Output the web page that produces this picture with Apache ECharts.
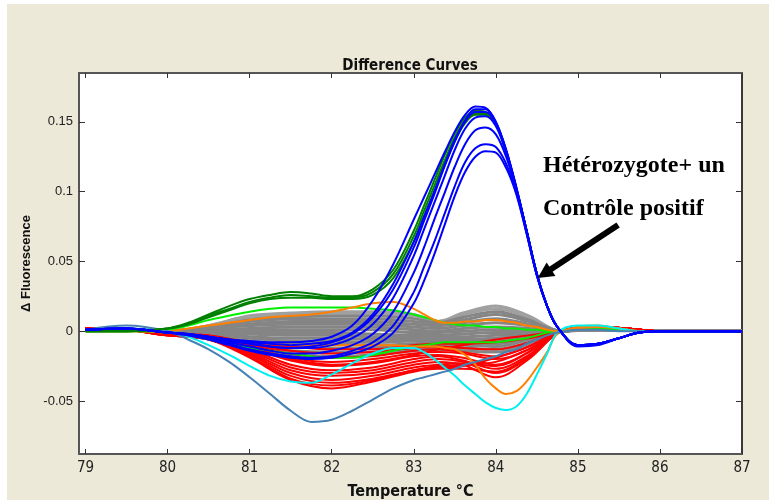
<!DOCTYPE html>
<html>
<head>
<meta charset="utf-8">
<script src="https://cdn.jsdelivr.net/npm/echarts@6/dist/echarts.min.js"></script>
<style>
  html, body { margin: 0; padding: 0; background: #ffffff; }
  #chart { position: absolute; left: 7px; top: 4px; width: 762px; height: 496px; background: #ECE9D8; }
</style>
</head>
<body>
<div id="chart"></div>
<script>
// Temperature grids (°C) used by the difference curves
const tempsFine = [79, 79.5, 80, 80.25, 80.5, 80.75, 81, 81.25, 81.5, 81.75, 82, 82.25, 82.5, 82.75,
  83, 83.125, 83.25, 83.375, 83.5, 83.625, 83.75, 83.875, 84, 84.125, 84.25, 84.375, 84.5, 84.625, 84.75,
  85, 85.25, 85.5, 85.75, 86, 87];
const tempsCoarse = [79, 79.5, 80, 80.5, 81, 81.5, 82, 82.5, 83, 83.3, 83.6, 84, 84.4, 84.8, 85.2, 85.6, 86, 87];

// Tick labels
const xTicks = [79, 80, 81, 82, 83, 84, 85, 86, 87];
const yTicks = [-0.05, 0, 0.05, 0.1, 0.15];

// Heterozygote + positive control (blue), on tempsFine
const blueCurves = [
  [0.001, 0.002, -0.001, -0.002, -0.004, -0.006, -0.007, -0.008, -0.008, -0.007, -0.004, 0.004, 0.022, 0.048, 0.080, 0.096, 0.112, 0.128, 0.143, 0.155, 0.161, 0.160, 0.150, 0.130, 0.103, 0.072, 0.041, 0.018, 0.003, -0.010, -0.009, -0.005, -0.001, 0, 0],
  [0.001, 0.002, -0.001, -0.002, -0.004, -0.006, -0.009, -0.011, -0.012, -0.011, -0.008, -0.002, 0.010, 0.030, 0.060, 0.079, 0.098, 0.118, 0.136, 0.151, 0.159, 0.159, 0.150, 0.130, 0.103, 0.072, 0.041, 0.018, 0.003, -0.011, -0.010, -0.005, -0.001, 0, 0],
  [0.001, 0.002, -0.001, -0.002, -0.004, -0.006, -0.008, -0.009, -0.010, -0.009, -0.007, -0.001, 0.012, 0.034, 0.064, 0.082, 0.100, 0.119, 0.137, 0.150, 0.157, 0.157, 0.149, 0.129, 0.102, 0.072, 0.041, 0.018, 0.003, -0.010, -0.009, -0.005, -0.001, 0, 0],
  [0.001, 0.002, -0.001, -0.002, -0.004, -0.007, -0.009, -0.011, -0.012, -0.012, -0.010, -0.005, 0.005, 0.024, 0.054, 0.073, 0.092, 0.111, 0.130, 0.145, 0.153, 0.154, 0.147, 0.128, 0.102, 0.072, 0.041, 0.018, 0.003, -0.010, -0.009, -0.005, -0.001, 0, 0],
  [0.001, 0.002, -0.001, -0.002, -0.005, -0.008, -0.011, -0.014, -0.016, -0.016, -0.014, -0.010, -0.002, 0.014, 0.042, 0.060, 0.080, 0.099, 0.118, 0.134, 0.144, 0.146, 0.141, 0.125, 0.101, 0.071, 0.040, 0.018, 0.003, -0.010, -0.009, -0.005, -0.001, 0, 0],
  [0.001, 0.002, -0.001, -0.003, -0.005, -0.009, -0.013, -0.016, -0.018, -0.019, -0.018, -0.014, -0.008, 0.004, 0.028, 0.046, 0.064, 0.084, 0.104, 0.121, 0.131, 0.134, 0.132, 0.120, 0.099, 0.070, 0.040, 0.018, 0.003, -0.010, -0.009, -0.005, -0.001, 0, 0],
  [0.001, 0.002, -0.001, -0.003, -0.006, -0.010, -0.014, -0.017, -0.019, -0.020, -0.019, -0.016, -0.011, -0.001, 0.020, 0.036, 0.055, 0.076, 0.097, 0.114, 0.125, 0.129, 0.128, 0.117, 0.098, 0.070, 0.040, 0.018, 0.003, -0.010, -0.009, -0.005, -0.001, 0, 0]
];

// Dark green samples, on tempsFine
const greenCurves = [
  [0, 0, 0.002, 0.006, 0.012, 0.018, 0.023, 0.026, 0.028, 0.027, 0.025, 0.025, 0.030, 0.044, 0.072, 0.090, 0.108, 0.126, 0.142, 0.153, 0.158, 0.157, 0.149, 0.129, 0.102, 0.072, 0.041, 0.018, 0.003, -0.010, -0.009, -0.005, -0.001, 0, 0],
  [0, 0, 0.002, 0.005, 0.011, 0.016, 0.021, 0.024, 0.026, 0.025, 0.024, 0.024, 0.028, 0.041, 0.068, 0.086, 0.104, 0.122, 0.139, 0.151, 0.156, 0.156, 0.148, 0.129, 0.102, 0.072, 0.041, 0.018, 0.003, -0.010, -0.009, -0.005, -0.001, 0, 0],
  [0, 0, 0.002, 0.005, 0.010, 0.015, 0.020, 0.023, 0.024, 0.024, 0.023, 0.023, 0.026, 0.038, 0.064, 0.082, 0.100, 0.119, 0.136, 0.149, 0.155, 0.155, 0.148, 0.128, 0.102, 0.072, 0.041, 0.018, 0.003, -0.010, -0.009, -0.005, -0.001, 0, 0]
];

// Light green samples, on tempsFine
const limeCurves = [
  [0, 0, 0.001, 0.004, 0.008, 0.011, 0.014, 0.016, 0.017, 0.017, 0.017, 0.017, 0.016, 0.015, 0.012, 0.010, 0.008, 0.006, 0.005, 0.004, 0.004, 0.003, 0.003, 0.002, 0.002, 0.001, 0.001, 0, 0, 0.002, 0.003, 0.002, 0, 0, 0],
  [0, 0, -0.001, -0.003, -0.006, -0.009, -0.012, -0.014, -0.016, -0.018, -0.019, -0.019, -0.017, -0.014, -0.011, -0.010, -0.009, -0.008, -0.008, -0.008, -0.008, -0.008, -0.008, -0.007, -0.006, -0.005, -0.003, -0.001, 0, 0.002, 0.002, 0.001, 0, 0, 0]
];

// Orange samples, on tempsFine
const orangeCurves = [
  [0, 0, 0, 0.002, 0.004, 0.006, 0.008, 0.010, 0.011, 0.012, 0.014, 0.017, 0.020, 0.021, 0.016, 0.012, 0.008, 0.006, 0.006, 0.007, 0.007, 0.008, 0.008, 0.007, 0.006, 0.004, 0.003, 0.001, 0, 0.002, 0.003, 0.002, 0, 0, 0],
  [0.001, 0.001, -0.001, -0.002, -0.004, -0.006, -0.008, -0.009, -0.010, -0.010, -0.010, -0.010, -0.010, -0.010, -0.011, -0.011, -0.011, -0.012, -0.013, -0.017, -0.024, -0.034, -0.041, -0.045, -0.043, -0.036, -0.026, -0.015, -0.002, 0.003, 0.004, 0.002, 0, 0, 0]
];

// Cyan sample, on tempsFine
const cyanCurve = [0.001, 0.002, 0, -0.004, -0.010, -0.017, -0.025, -0.032, -0.036, -0.037, -0.031, -0.023, -0.016, -0.012, -0.012, -0.015, -0.020, -0.026, -0.032, -0.039, -0.045, -0.051, -0.055, -0.0565, -0.054, -0.045, -0.031, -0.016, -0.001, 0.004, 0.004, 0.002, 0, 0, 0];

// Steel blue sample, on tempsFine
const steelCurve = [0.001, 0.004, 0, -0.006, -0.013, -0.022, -0.033, -0.045, -0.057, -0.065, -0.0635, -0.057, -0.049, -0.041, -0.035, -0.033, -0.031, -0.029, -0.027, -0.024, -0.022, -0.020, -0.018, -0.015, -0.013, -0.009, -0.006, -0.003, -0.001, 0.001, 0.001, 0, 0, 0, 0];

// Red samples, on tempsCoarse
const redCurves = [
  [0.002, 0.001, -0.002, -0.003, -0.008, -0.011, -0.013, -0.013, -0.010, -0.009, -0.009, -0.008, -0.005, 0, 0.003, 0.002, 0, 0],
  [0.002, 0.001, -0.002, -0.003, -0.009, -0.014, -0.016, -0.015, -0.012, -0.011, -0.012, -0.013, -0.008, 0, 0.003, 0.002, 0, 0],
  [0.002, 0.001, -0.002, -0.004, -0.010, -0.016, -0.019, -0.018, -0.014, -0.013, -0.015, -0.018, -0.011, 0, 0.003, 0.002, 0, 0],
  [0.002, 0.001, -0.002, -0.004, -0.011, -0.019, -0.022, -0.020, -0.016, -0.015, -0.016, -0.020, -0.013, 0, 0.003, 0.002, 0, 0],
  [0.002, 0.001, -0.002, -0.004, -0.012, -0.021, -0.025, -0.023, -0.018, -0.017, -0.019, -0.024, -0.015, 0, 0.003, 0.002, 0, 0],
  [0.002, 0.001, -0.002, -0.005, -0.013, -0.024, -0.028, -0.026, -0.020, -0.018, -0.021, -0.027, -0.017, 0, 0.003, 0.002, 0, 0],
  [0.002, 0.001, -0.003, -0.005, -0.014, -0.026, -0.030, -0.028, -0.022, -0.020, -0.022, -0.030, -0.019, 0, 0.003, 0.002, 0, 0],
  [0.002, 0.001, -0.003, -0.005, -0.015, -0.028, -0.032, -0.030, -0.024, -0.022, -0.024, -0.033, -0.020, 0, 0.003, 0.002, 0, 0],
  [0.002, 0.001, -0.003, -0.005, -0.016, -0.030, -0.035, -0.032, -0.026, -0.024, -0.023, -0.025, -0.015, 0, 0.003, 0.002, 0, 0],
  [0.002, 0.001, -0.003, -0.006, -0.017, -0.032, -0.037, -0.034, -0.028, -0.025, -0.024, -0.022, -0.013, 0, 0.003, 0.002, 0, 0],
  [0.002, 0.001, -0.003, -0.006, -0.018, -0.034, -0.039, -0.035, -0.028, -0.026, -0.025, -0.019, -0.011, 0, 0.003, 0.002, 0, 0],
  [0.002, 0.001, -0.003, -0.006, -0.019, -0.035, -0.041, -0.036, -0.029, -0.027, -0.027, -0.029, -0.018, 0, 0.003, 0.002, 0, 0],
  [0.002, 0.001, -0.002, -0.004, -0.012, -0.020, -0.024, -0.022, -0.017, -0.013, -0.010, -0.006, -0.003, 0, 0.003, 0.002, 0, 0]
];

// Grey samples, on tempsCoarse
const greyCurves = [
  [0.001, 0.001, 0, 0.004, 0.011, 0.013, 0.014, 0.014, 0.012, 0.007, 0.013, 0.018, 0.011, 0, 0.002, 0.001, 0, 0],
  [0.001, 0.001, 0, 0.004, 0.010, 0.012, 0.013, 0.013, 0.011, 0.007, 0.012, 0.016, 0.010, 0, 0.002, 0.001, 0, 0],
  [0.001, 0.001, 0, 0.003, 0.008, 0.010, 0.011, 0.011, 0.009, 0.006, 0.010, 0.014, 0.008, 0, 0.002, 0.001, 0, 0],
  [0.001, 0.001, 0, 0.003, 0.007, 0.009, 0.009, 0.009, 0.007, 0.005, 0.008, 0.012, 0.007, 0, 0.002, 0.001, 0, 0],
  [0.001, 0.001, 0, 0.002, 0.005, 0.007, 0.007, 0.007, 0.005, 0.004, 0.006, 0.009, 0.005, 0, 0.002, 0.001, 0, 0],
  [0.001, 0.001, 0, 0.002, 0.004, 0.005, 0.005, 0.005, 0.003, 0.002, 0.004, 0.006, 0.004, 0, 0.002, 0.001, 0, 0],
  [0.001, 0.001, 0, 0.001, 0.002, 0.003, 0.003, 0.003, 0.001, 0.000, 0.002, 0.003, 0.002, 0, 0.002, 0.001, 0, 0],
  [0.001, 0.001, 0, 0, 0.001, 0.001, 0.001, 0.001, -0.001, -0.001, 0, 0.001, 0.001, 0, 0.001, 0.001, 0, 0],
  [0.001, 0.001, 0, 0, -0.001, -0.001, -0.001, -0.002, -0.003, -0.003, -0.002, -0.001, -0.001, 0, 0.001, 0.001, 0, 0],
  [0.001, 0.001, 0, -0.001, -0.002, -0.003, -0.003, -0.004, -0.004, -0.004, -0.004, -0.003, -0.002, 0, 0.001, 0.001, 0, 0],
  [0.001, 0.001, 0, -0.001, -0.004, -0.005, -0.005, -0.006, -0.006, -0.006, -0.006, -0.005, -0.003, 0, 0.001, 0.001, 0, 0],
  [0.001, 0.001, 0, -0.002, -0.005, -0.007, -0.007, -0.008, -0.007, -0.007, -0.007, -0.007, -0.004, 0, 0.001, 0.001, 0, 0],
  [0.001, 0.001, 0, -0.003, -0.007, -0.009, -0.009, -0.010, -0.009, -0.008, -0.009, -0.009, -0.005, 0, 0.001, 0.001, 0, 0],
  [0.001, 0.001, 0, -0.003, -0.009, -0.011, -0.012, -0.012, -0.010, -0.010, -0.010, -0.011, -0.006, 0, 0.001, 0.001, 0, 0],
  [0.001, 0.001, 0, -0.004, -0.011, -0.014, -0.015, -0.015, -0.012, -0.011, -0.012, -0.013, -0.008, 0, 0.001, 0.001, 0, 0],
  [0.001, 0.001, -0.001, -0.005, -0.013, -0.017, -0.018, -0.017, -0.014, -0.013, -0.014, -0.015, -0.009, 0, 0.001, 0.001, 0, 0]
];

const NARROW = "'Liberation Sans Narrow', 'DejaVu Sans Condensed', 'Liberation Sans', sans-serif";
const SANS = "'Liberation Sans', Arial, sans-serif";

function curve(temps, values, color, width) {
  return {
    type: 'line',
    data: temps.map((t, i) => [t, values[i]]),
    smooth: 0.35,
    showSymbol: false,
    symbol: 'none',
    silent: true,
    lineStyle: { color: color, width: width || 2 },
    emphasis: { disabled: true }
  };
}

const series = [];
greyCurves.forEach((v, i) => series.push(curve(tempsCoarse, v, i < 2 ? '#a0a0a0' : '#858585', 3)));
redCurves.forEach(v => series.push(curve(tempsCoarse, v, '#ff0000', 2)));
limeCurves.forEach(v => series.push(curve(tempsFine, v, '#00ee00', 2)));
orangeCurves.forEach(v => series.push(curve(tempsFine, v, '#ff8000', 2)));
series.push(curve(tempsFine, cyanCurve, '#00f0f0', 2));
series.push(curve(tempsFine, steelCurve, '#4682b4', 2));
greenCurves.forEach(v => series.push(curve(tempsFine, v, '#008000', 2)));
blueCurves.forEach(v => series.push(curve(tempsFine, v, '#0000ff', 2)));

const X_MIN = 78.92, X_MAX = 87, Y_MIN = -0.088, Y_MAX = 0.185;
const frame = { color: '#555555', width: 2 };

const chart = echarts.init(document.getElementById('chart'), null, { renderer: 'canvas' });
chart.setOption({
  animation: false,
  title: {
    text: 'Difference Curves',
    left: 403, top: 55, textAlign: 'center', padding: 0,
    textStyle: { fontFamily: NARROW, fontWeight: 'bold', fontSize: 15, color: '#111' }
  },
  grid: {
    left: 72, right: 27, top: 69, bottom: 46,
    outerBoundsMode: 'none', containLabel: false,
    show: true, backgroundColor: '#ffffff', borderWidth: 0
  },
  xAxis: [
    {
      type: 'value', min: X_MIN, max: X_MAX, position: 'bottom',
      name: 'Temperature °C', nameLocation: 'middle', nameGap: 30,
      nameTextStyle: { fontFamily: NARROW, fontWeight: 'bold', fontSize: 16, color: '#111' },
      axisLine: { show: true, onZero: false, lineStyle: frame },
      axisTick: { show: true, inside: true, length: 5, customValues: xTicks, lineStyle: { color: '#333', width: 1 } },
      axisLabel: { show: true, customValues: xTicks, margin: 7, fontFamily: NARROW, fontSize: 15, color: '#222' },
      splitLine: { show: false }
    },
    {
      type: 'value', min: X_MIN, max: X_MAX, position: 'top',
      axisLine: { show: true, onZero: false, lineStyle: frame },
      axisTick: { show: true, inside: true, length: 5, customValues: xTicks, lineStyle: { color: '#333', width: 1 } },
      axisLabel: { show: false },
      splitLine: { show: false }
    }
  ],
  yAxis: [
    {
      type: 'value', min: Y_MIN, max: Y_MAX, position: 'left',
      name: 'Δ Fluorescence', nameLocation: 'middle', nameGap: 39,
      nameTextStyle: { fontFamily: SANS, fontWeight: 'bold', fontSize: 13, color: '#111' },
      axisLine: { show: true, onZero: false, lineStyle: frame },
      axisTick: { show: true, inside: true, length: 6, customValues: yTicks, lineStyle: { color: '#333', width: 1 } },
      axisLabel: { show: true, customValues: yTicks, margin: 6, fontFamily: SANS, fontSize: 13, color: '#222' },
      splitLine: { show: false }
    },
    {
      type: 'value', min: Y_MIN, max: Y_MAX, position: 'right',
      axisLine: { show: true, onZero: false, lineStyle: { color: '#3a3a3a', width: 2 } },
      axisTick: { show: true, inside: true, length: 6, customValues: yTicks, lineStyle: { color: '#333', width: 1 } },
      axisLabel: { show: false },
      splitLine: { show: false }
    }
  ],
  series: series
});

// Annotation: label and arrow pointing at the heterozygote falling edge
const toPx = p => chart.convertToPixel({ xAxisIndex: 0, yAxisIndex: 0 }, p);
const labelLine1 = toPx([84.575, 0.1184]);
const labelLine2 = toPx([84.575, 0.0876]);
const arrowTail = toPx([85.49, 0.0761]);
const arrowTip = toPx([84.51, 0.0381]);

const dx = arrowTip[0] - arrowTail[0], dy = arrowTip[1] - arrowTail[1];
const len = Math.sqrt(dx * dx + dy * dy);
const ux = dx / len, uy = dy / len;
const headLen = 16, headHalf = 8;
const base = [arrowTip[0] - ux * headLen, arrowTip[1] - uy * headLen];

const serif = "'Liberation Serif', 'Times New Roman', serif";
chart.setOption({
  graphic: [
    { type: 'text', x: labelLine1[0], y: labelLine1[1], z: 100,
      style: { text: 'Hétérozygote+ un', font: 'bold 24px ' + serif, fill: '#000', verticalAlign: 'middle', align: 'left' } },
    { type: 'text', x: labelLine2[0], y: labelLine2[1], z: 100,
      style: { text: 'Contrôle positif', font: 'bold 24px ' + serif, fill: '#000', verticalAlign: 'middle', align: 'left' } },
    { type: 'line', z: 100,
      shape: { x1: arrowTail[0], y1: arrowTail[1], x2: base[0] + ux * 2, y2: base[1] + uy * 2 },
      style: { stroke: '#000', lineWidth: 6 } },
    { type: 'polygon', z: 100,
      shape: { points: [arrowTip, [base[0] - uy * headHalf, base[1] + ux * headHalf], [base[0] + uy * headHalf, base[1] - ux * headHalf]] },
      style: { fill: '#000' } }
  ]
});
</script>
</body>
</html>
